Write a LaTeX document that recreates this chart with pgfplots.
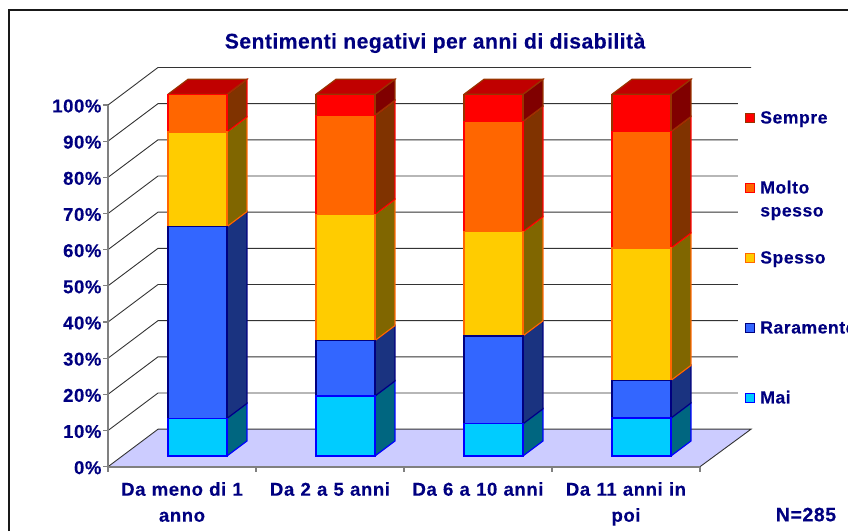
\documentclass[border=0pt]{standalone}
\usepackage{pgfplots}
\pgfplotsset{compat=1.18}
\usepackage{fontspec}
\setmainfont{Liberation Sans}[LetterSpace=3,BoldFeatures={FakeBold=0.25}]
\newfontfamily\titlefont{Liberation Sans}[LetterSpace=2,BoldFeatures={FakeBold=0.25}]
\definecolor{navy}{HTML}{000080}
\definecolor{floorc}{HTML}{CCCCFF}
\definecolor{brownb}{HTML}{993300}
\pgfplotstableread{
x  Mai Raramente Spesso Molto Sempre
0  10.4 53.0 26.2 10.4 0
1  16.6 15.3 34.9 27.4 5.8
2  8.9 24.3 28.8 30.5 7.5
3  10.5 10.4 36.6 32.2 10.3
}\datatable
\pgfplotsset{
  common/.style={
    at={(108pt,64.3pt)},anchor=south west,
    scale only axis,width=643pt,height=399.2pt,
    xmin=-0.6047,xmax=3.74,ymin=-2.96,ymax=107.41,clip=false,
  },
  wall/.style={black!80,line width=0.9pt,forget plot,no markers},
  square legend/.style={legend image code/.code={%
    \draw[##1,/tikz/.cd,line width=1.2pt] (0.6pt,-3.4pt) rectangle (10pt,6pt);}},
}
\begin{document}
\begin{tikzpicture}
\useasboundingbox (0,0) rectangle (848pt,531pt);
\draw[black!90,line width=2pt] (8.5pt,0pt) -- (8.5pt,521pt) -- (848pt,521pt);
% walls, floor, side and top faces
\begin{axis}[common,
  axis line style={draw=none},
  xtick={0,1,2,3},
  xticklabels={{Da meno di 1\\anno},{Da 2 a 5 anni},{Da 6 a 10 anni},{Da 11 anni in\\poi}},
  x tick label style={font=\fontsize{18.6}{26}\selectfont\bfseries,text=navy,align=center,text width=146pt,xshift=-15.5pt,yshift=-7pt,anchor=north},
  major tick length=5pt,
  tick align=outside,
  ytick={-2.96,7.04,17.04,27.04,37.04,47.04,57.04,67.04,77.04,87.04,97.04},
  yticklabels={0\%,10\%,20\%,30\%,40\%,50\%,60\%,70\%,80\%,90\%,100\%},
  y tick label style={font=\fontsize{18.6}{20}\selectfont\bfseries,text=navy,xshift=2pt,yshift=-1pt},
  /pgf/number format/assume math mode=true,
  axis y line*=left, axis x line*=bottom,
  xtick style={draw=none},
  ytick style={draw=gray,line width=1.2pt},
  title={Sentimenti negativi per anni di disabilit\`a},
  title style={font=\titlefont\fontsize{21.2}{24}\selectfont\bfseries,text=navy,at={(rel axis cs:0.5086,1.0664)},anchor=center,yshift=-8pt},
]
% floor
\addplot[fill=floorc,draw=none,forget plot] coordinates {(-0.6047,-2.96)(3.3953,-2.96)(3.74,7.41)(-0.2669,7.41)(-0.6047,-2.96)};
% wall lines: 0 to 100 percent
\addplot[wall] coordinates {(-0.6047,-2.96)(-0.2669,7.41)(3.74,7.41)(3.3953,-2.96)};
\addplot[wall] coordinates {(-0.6047,7.04)(-0.2669,17.41)(3.652,17.41)};
\addplot[wall] coordinates {(-0.6047,17.04)(-0.2669,27.41)(3.652,27.41)};
\addplot[wall] coordinates {(-0.6047,27.04)(-0.2669,37.41)(3.652,37.41)};
\addplot[wall] coordinates {(-0.6047,37.04)(-0.2669,47.41)(3.652,47.41)};
\addplot[wall] coordinates {(-0.6047,47.04)(-0.2669,57.41)(3.652,57.41)};
\addplot[wall] coordinates {(-0.6047,57.04)(-0.2669,67.41)(3.652,67.41)};
\addplot[wall] coordinates {(-0.6047,67.04)(-0.2669,77.41)(3.652,77.41)};
\addplot[wall] coordinates {(-0.6047,77.04)(-0.2669,87.41)(3.652,87.41)};
\addplot[wall] coordinates {(-0.6047,87.04)(-0.2669,97.41)(3.652,97.41)};
\addplot[wall] coordinates {(-0.6047,97.04)(-0.2669,107.41)(3.74,107.41)};
% axis lines and ticks
\addplot[gray,line width=1.6pt,forget plot] coordinates {(-0.6047,97.04)(-0.6047,-2.96)(3.3953,-2.96)};
\addplot[gray,line width=1.2pt,forget plot] coordinates {(-0.6047,-2.96)(-0.6047,-4.5)};
\addplot[gray,line width=1.2pt,forget plot] coordinates {(0.3953,-2.96)(0.3953,-4.5)};
\addplot[gray,line width=1.2pt,forget plot] coordinates {(1.3953,-2.96)(1.3953,-4.5)};
\addplot[gray,line width=1.2pt,forget plot] coordinates {(2.3953,-2.96)(2.3953,-4.5)};
\addplot[gray,line width=1.2pt,forget plot] coordinates {(3.3953,-2.96)(3.3953,-4.5)};
% bar 1 side faces
\addplot[fill={rgb,255:red,0;green,102;blue,128},draw=blue,line width=1.2pt,forget plot] coordinates {(0.1993,0)(0.3344,4.15)(0.3344,14.55)(0.1993,10.4)(0.1993,0)};
\addplot[fill={rgb,255:red,26;green,51;blue,128},draw=navy,line width=1.2pt,forget plot] coordinates {(0.1993,10.4)(0.3344,14.55)(0.3344,67.55)(0.1993,63.4)(0.1993,10.4)};
\addplot[fill={rgb,255:red,128;green,102;blue,0},draw={rgb,255:red,255;green,102;blue,0},line width=1.2pt,forget plot] coordinates {(0.1993,63.4)(0.3344,67.55)(0.3344,93.75)(0.1993,89.6)(0.1993,63.4)};
\addplot[fill={rgb,255:red,128;green,51;blue,0},draw=red,line width=1.2pt,forget plot] coordinates {(0.1993,89.6)(0.3344,93.75)(0.3344,104.15)(0.1993,100)(0.1993,89.6)};
\addplot[fill={rgb,255:red,192;green,0;blue,0},draw=brownb,line width=1.2pt,forget plot] coordinates {(-0.1993,100)(0.1993,100)(0.3344,104.15)(-0.0642,104.15)(-0.1993,100)};
% bar 2 side faces
\addplot[fill={rgb,255:red,0;green,102;blue,128},draw=blue,line width=1.2pt,forget plot] coordinates {(1.1993,0)(1.3344,4.15)(1.3344,20.75)(1.1993,16.6)(1.1993,0)};
\addplot[fill={rgb,255:red,26;green,51;blue,128},draw=navy,line width=1.2pt,forget plot] coordinates {(1.1993,16.6)(1.3344,20.75)(1.3344,36.05)(1.1993,31.9)(1.1993,16.6)};
\addplot[fill={rgb,255:red,128;green,102;blue,0},draw={rgb,255:red,255;green,102;blue,0},line width=1.2pt,forget plot] coordinates {(1.1993,31.9)(1.3344,36.05)(1.3344,70.95)(1.1993,66.8)(1.1993,31.9)};
\addplot[fill={rgb,255:red,128;green,51;blue,0},draw=red,line width=1.2pt,forget plot] coordinates {(1.1993,66.8)(1.3344,70.95)(1.3344,98.35)(1.1993,94.2)(1.1993,66.8)};
\addplot[fill={rgb,255:red,128;green,0;blue,0},draw=brownb,line width=1.2pt,forget plot] coordinates {(1.1993,94.2)(1.3344,98.35)(1.3344,104.15)(1.1993,100)(1.1993,94.2)};
\addplot[fill={rgb,255:red,192;green,0;blue,0},draw=brownb,line width=1.2pt,forget plot] coordinates {(0.8007,100)(1.1993,100)(1.3344,104.15)(0.9358,104.15)(0.8007,100)};
% bar 3 side faces
\addplot[fill={rgb,255:red,0;green,102;blue,128},draw=blue,line width=1.2pt,forget plot] coordinates {(2.1993,0)(2.3344,4.15)(2.3344,13.05)(2.1993,8.9)(2.1993,0)};
\addplot[fill={rgb,255:red,26;green,51;blue,128},draw=navy,line width=1.2pt,forget plot] coordinates {(2.1993,8.9)(2.3344,13.05)(2.3344,37.35)(2.1993,33.2)(2.1993,8.9)};
\addplot[fill={rgb,255:red,128;green,102;blue,0},draw={rgb,255:red,255;green,102;blue,0},line width=1.2pt,forget plot] coordinates {(2.1993,33.2)(2.3344,37.35)(2.3344,66.15)(2.1993,62)(2.1993,33.2)};
\addplot[fill={rgb,255:red,128;green,51;blue,0},draw=red,line width=1.2pt,forget plot] coordinates {(2.1993,62)(2.3344,66.15)(2.3344,96.65)(2.1993,92.5)(2.1993,62)};
\addplot[fill={rgb,255:red,128;green,0;blue,0},draw=brownb,line width=1.2pt,forget plot] coordinates {(2.1993,92.5)(2.3344,96.65)(2.3344,104.15)(2.1993,100)(2.1993,92.5)};
\addplot[fill={rgb,255:red,192;green,0;blue,0},draw=brownb,line width=1.2pt,forget plot] coordinates {(1.8007,100)(2.1993,100)(2.3344,104.15)(1.9358,104.15)(1.8007,100)};
% bar 4 side faces
\addplot[fill={rgb,255:red,0;green,102;blue,128},draw=blue,line width=1.2pt,forget plot] coordinates {(3.1993,0)(3.3344,4.15)(3.3344,14.65)(3.1993,10.5)(3.1993,0)};
\addplot[fill={rgb,255:red,26;green,51;blue,128},draw=navy,line width=1.2pt,forget plot] coordinates {(3.1993,10.5)(3.3344,14.65)(3.3344,25.05)(3.1993,20.9)(3.1993,10.5)};
\addplot[fill={rgb,255:red,128;green,102;blue,0},draw={rgb,255:red,255;green,102;blue,0},line width=1.2pt,forget plot] coordinates {(3.1993,20.9)(3.3344,25.05)(3.3344,61.65)(3.1993,57.5)(3.1993,20.9)};
\addplot[fill={rgb,255:red,128;green,51;blue,0},draw=red,line width=1.2pt,forget plot] coordinates {(3.1993,57.5)(3.3344,61.65)(3.3344,93.85)(3.1993,89.7)(3.1993,57.5)};
\addplot[fill={rgb,255:red,128;green,0;blue,0},draw=brownb,line width=1.2pt,forget plot] coordinates {(3.1993,89.7)(3.3344,93.85)(3.3344,104.15)(3.1993,100)(3.1993,89.7)};
\addplot[fill={rgb,255:red,192;green,0;blue,0},draw=brownb,line width=1.2pt,forget plot] coordinates {(2.8007,100)(3.1993,100)(3.3344,104.15)(2.9358,104.15)(2.8007,100)};
\end{axis}
% front faces and legend
\begin{axis}[common,
  axis lines=none,
  ybar stacked,bar width=59pt,
  reverse legend,
  legend cell align=left,
  legend style={at={(rel axis cs:0.98989,0.8868)},anchor=north west,draw=none,fill=none,inner sep=0pt,
    font=\fontsize{17.6}{23}\selectfont\bfseries,text=navy,row sep=57.4pt,column sep=5pt,
    nodes={inner sep=0pt,text height=10pt,text depth=2pt}},
]
\addplot[fill={rgb,255:red,0;green,204;blue,255},draw=blue,line width=1.2pt,square legend] table[x=x,y=Mai]{\datatable};
\addlegendentry{Mai}
\addplot[fill={rgb,255:red,51;green,102;blue,255},draw=navy,line width=1.2pt,square legend] table[x=x,y=Raramente]{\datatable};
\addlegendentry{Raramente}
\addplot[fill={rgb,255:red,255;green,204;blue,0},draw={rgb,255:red,255;green,102;blue,0},line width=1.2pt,square legend] table[x=x,y=Spesso]{\datatable};
\addlegendentry{Spesso}
\addplot[fill={rgb,255:red,255;green,102;blue,0},draw=red,line width=1.2pt,square legend] table[x=x,y=Molto]{\datatable};
\addlegendentry{\parbox[t]{80pt}{Molto\\spesso}}
\addplot[fill=red,draw=brownb,line width=1.2pt,square legend] table[x=x,y=Sempre]{\datatable};
\addlegendentry{Sempre}
\node[font=\fontsize{19.5}{20}\selectfont\bfseries,text=navy] at (rel axis cs:1.0855,-0.12) {N=285};
\end{axis}
\end{tikzpicture}
\end{document}
